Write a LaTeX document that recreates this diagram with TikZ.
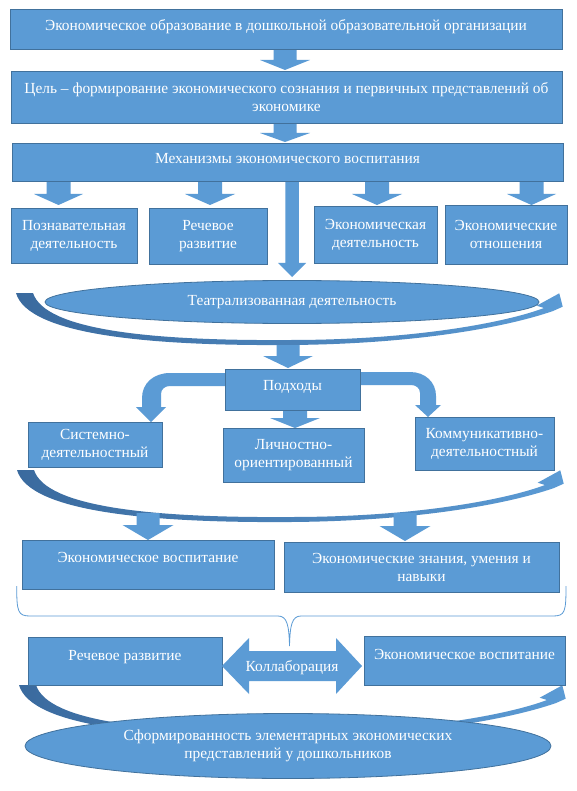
\documentclass[tikz,border=0pt]{standalone}
\usepackage{fontspec}
\setmainfont{Liberation Serif}
\usetikzlibrary{shapes.geometric}
\definecolor{cfill}{HTML}{5B9BD5}
\definecolor{cline}{HTML}{41719C}
\definecolor{cdark}{HTML}{3A6A9E}
\tikzset{
  box/.style={draw=cline, line width=0.8pt, fill=cfill, text=white, inner sep=0pt, outer sep=0pt,
    font=\fontsize{15.4}{18}\selectfont, align=center},
  one/.style={text height=11pt, text depth=#1},
  one/.default=4pt,
  blk/.style={fill=cfill},
  band/.style={left color=cdark, right color=cfill},
  bracecol/.style={draw=cfill, line width=0.8pt},
  lbl/.style={text=white, inner sep=0pt, font=\fontsize{15.4}{18}\selectfont}
}
\newcommand\dnarrow[6]{%
  \fill[blk] ({#1-#5},#2) -- ({#1+#5},#2) -- ({#1+#5},#3) -- ({#1+#6},#3) -- (#1,#4)
    -- ({#1-#6},#3) -- ({#1-#5},#3) -- cycle;}
\newcommand\curveband[2]{%
  \begin{scope}[shift={(#1,#2)}]
    \path[band] (16,293) .. controls (28,335) and (150,346) .. (290,345)
      .. controls (420,344) and (510,326) .. (553,311) -- (562.7,306.7) -- (559.3,293.3)
      -- (536.7,305.7) -- (544,308) .. controls (510,321) and (420,340) .. (290,340)
      .. controls (150,341) and (45,330) .. (33,293) -- cycle;
  \end{scope}}
\begin{document}
\begin{tikzpicture}[x=1pt,y=-1pt]
\useasboundingbox (0,0) rectangle (577,791);
\fill[white] (0,0) rectangle (577,791);

% curved bands
\curveband{0}{0}
\curveband{1}{177}
\curveband{3}{392}

% block arrows
\dnarrow{285}{49}{60}{70}{11.5}{25}
\dnarrow{285}{123}{133}{142}{11.5}{25}
\dnarrow{58.5}{181}{194}{205}{12}{24.5}
\dnarrow{210}{181}{194}{205}{12}{25}
\dnarrow{377}{181}{194}{205}{12}{25}
\dnarrow{531.5}{181}{194}{205}{12}{24.5}
\dnarrow{292}{181}{263}{277}{6.75}{14}
\dnarrow{288}{345}{356}{368}{11.5}{25}
\dnarrow{295}{410}{418}{428}{12}{25}
\dnarrow{148}{513}{525}{540}{11.5}{25.5}
\dnarrow{405}{513}{526}{541}{11.5}{25.5}

% bent arrows from "Подходы"
\fill[blk] (226,373) -- (170,373) .. controls (154,373) and (142,383) .. (142,398) -- (142,407)
  -- (136,407) -- (151,422) -- (166,407) -- (161,407) -- (161,394)
  .. controls (161,389) and (165,386) .. (170,386) -- (226,386) -- cycle;
\fill[blk] (359,372) -- (410,372) .. controls (425,372) and (436,382) .. (436,396) -- (436,405)
  -- (441,405) -- (428,417) -- (415,405) -- (420,405) -- (420,393)
  .. controls (420,388) and (416,385) .. (411,385) -- (359,385) -- cycle;

% boxes
\node[box, one=8pt, minimum width=552pt, minimum height=40pt] (b1) at (286,29)
  {Экономическое образование в дошкольной образовательной организации};
\node[box, minimum width=551pt, minimum height=52pt] (b2) at (286.5,97)
  {Цель – формирование экономического сознания и первичных представлений об\\экономике};
\node[box, one=8pt, minimum width=551pt, minimum height=38pt] (b3) at (287.5,162)
  {Механизмы экономического воспитания};
\node[box, minimum width=126pt, minimum height=55pt] (b4) at (74,235.5) {Познавательная\\деятельность};
\node[box, minimum width=118pt, minimum height=56pt] (b5) at (208,236) {Речевое\\развитие};
\node[box, minimum width=123pt, minimum height=57pt] (b6) at (375.5,234.5) {Экономическая\\деятельность};
\node[box, minimum width=122pt, minimum height=59pt] (b7) at (506,234.5) {Экономические\\отношения};

\node[box, ellipse, one, minimum width=494pt, minimum height=43pt] (e1) at (292,302)
  {Театрализованная деятельность};

\node[box, one=10pt, minimum width=135pt, minimum height=41pt] (p) at (292.5,389.5) {Подходы};
\node[box, minimum width=134pt, minimum height=45pt] (p1) at (95,444.5) {Системно-\\деятельностный};
\node[box, minimum width=141pt, minimum height=54pt] (p2) at (293.5,455) {Личностно-\\ориентированный};
\node[box, minimum width=139pt, minimum height=53pt] (p3) at (484.5,443.5) {Коммуникативно-\\деятельностный};

\node[box, one=15pt, minimum width=252pt, minimum height=49pt] (r1) at (148,564.5) {Экономическое воспитание};
\node[box, minimum width=275pt, minimum height=50pt] (r2) at (421.5,567) {Экономические знания, умения и\\навыки};

% brace
\draw[bracecol] (16.7,586) .. controls (16.7,612) and (18,616) .. (30,616) -- (278,616)
  .. controls (287,616) and (289,625) .. (289.5,646)
  .. controls (290,625) and (292,616) .. (301,616) -- (553,616)
  .. controls (565,616) and (566,612) .. (566,586);

\node[box, one=12pt, minimum width=194pt, minimum height=48pt] (c1) at (125,661) {Речевое развитие};
\node[box, one=14pt, minimum width=201pt, minimum height=49pt] (c2) at (464.5,660.5) {Экономическое воспитание};

% collaboration double arrow
\fill[blk] (222,666) -- (249,638) -- (249,651) -- (336,651) -- (336,638) -- (362,666)
  -- (336,694) -- (336,681) -- (249,681) -- (249,694) -- cycle;
\node[lbl, one] (kol) at (292,668) {Коллаборация};

\node[box, ellipse, minimum width=526pt, minimum height=65pt] (e2) at (288,746)
  {Сформированность элементарных экономических\\представлений у дошкольников};
\end{tikzpicture}
\end{document}
